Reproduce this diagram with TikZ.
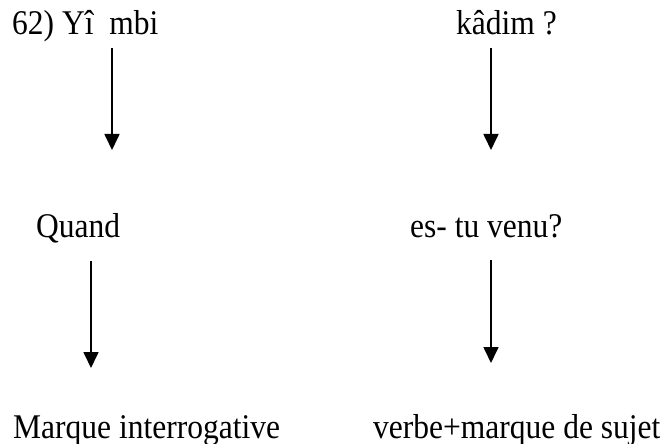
\documentclass[tikz,border=0pt]{standalone}
\usepackage{fontspec}
\usepackage{graphicx}
\setmainfont{Liberation Serif}
\usetikzlibrary{arrows.meta}
\newcommand{\stretchtxt}[1]{\scalebox{1}[1.1]{#1}}
\begin{document}
\begin{tikzpicture}[x=1pt,y=-1pt,
  lbl/.style={anchor=base west,inner sep=0pt,font=\fontsize{31.5}{36}\selectfont},
  arr/.style={line width=1.7pt,-{Triangle[width=15pt,length=16pt]}}]
\useasboundingbox (0,0) rectangle (665,444);
\node[lbl] (a1) at (12,35) {\stretchtxt{62) Yî\ \ mbi}};
\node[lbl] (a2) at (456,35) {\stretchtxt{kâdim ?}};
\node[lbl] (b1) at (36,237) {\stretchtxt{Quand}};
\node[lbl] (b2) at (410,237) {\stretchtxt{es- tu venu?}};
\node[lbl] (c1) at (13,438) {\stretchtxt{Marque interrogative}};
\node[lbl] (c2) at (373,438) {\stretchtxt{verbe+marque de sujet}};
\coordinate (s1) at (112,48); \coordinate (e1) at (112,150);
\coordinate (s2) at (491,48); \coordinate (e2) at (491,150);
\coordinate (s3) at (91,261); \coordinate (e3) at (91,368);
\coordinate (s4) at (491,260); \coordinate (e4) at (491,363);
\draw[arr] (s1) -- (e1);
\draw[arr] (s2) -- (e2);
\draw[arr] (s3) -- (e3);
\draw[arr] (s4) -- (e4);
\end{tikzpicture}
\end{document}
